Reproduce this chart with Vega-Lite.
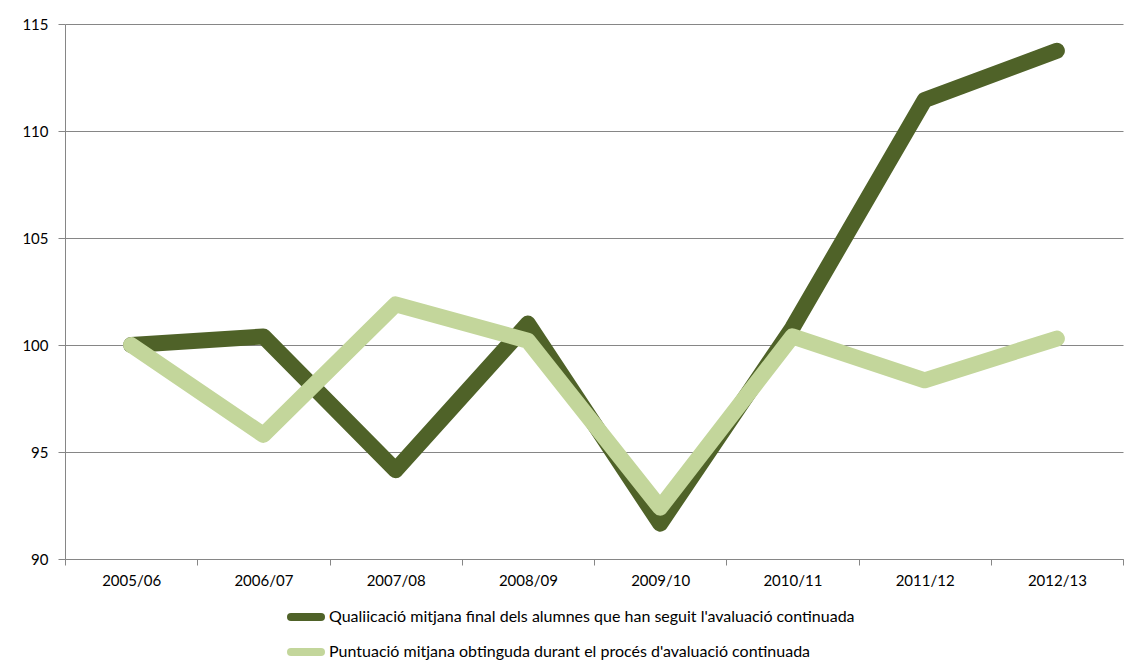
{
  "$schema": "https://vega.github.io/schema/vega-lite/v6.json",
  "width": 1058,
  "height": 535,
  "autosize": {"type": "none"},
  "padding": {"left": 65, "top": 24, "right": 12, "bottom": 110},
  "background": "white",
  "config": {
    "view": {"stroke": null},
    "font": "Lato",
    "axis": {
      "labelFont": "Lato",
      "labelFontSize": 15,
      "labelColor": "#000000",
      "domainColor": "#868686",
      "tickColor": "#868686",
      "gridColor": "#868686",
      "gridWidth": 1,
      "domainWidth": 1,
      "tickWidth": 1,
      "title": null
    }
  },
  "datasets": {
    "d": [
      {"curs": "2005/06", "serie": "Qualiicació mitjana final dels alumnes que han seguit l'avaluació continuada", "valor": 100.0},
      {"curs": "2006/07", "serie": "Qualiicació mitjana final dels alumnes que han seguit l'avaluació continuada", "valor": 100.4},
      {"curs": "2007/08", "serie": "Qualiicació mitjana final dels alumnes que han seguit l'avaluació continuada", "valor": 94.15},
      {"curs": "2008/09", "serie": "Qualiicació mitjana final dels alumnes que han seguit l'avaluació continuada", "valor": 101.0},
      {"curs": "2009/10", "serie": "Qualiicació mitjana final dels alumnes que han seguit l'avaluació continuada", "valor": 91.65},
      {"curs": "2010/11", "serie": "Qualiicació mitjana final dels alumnes que han seguit l'avaluació continuada", "valor": 100.8},
      {"curs": "2011/12", "serie": "Qualiicació mitjana final dels alumnes que han seguit l'avaluació continuada", "valor": 111.45},
      {"curs": "2012/13", "serie": "Qualiicació mitjana final dels alumnes que han seguit l'avaluació continuada", "valor": 113.75},
      {"curs": "2005/06", "serie": "Puntuació mitjana obtinguda durant el procés d'avaluació continuada", "valor": 100.0},
      {"curs": "2006/07", "serie": "Puntuació mitjana obtinguda durant el procés d'avaluació continuada", "valor": 95.8},
      {"curs": "2007/08", "serie": "Puntuació mitjana obtinguda durant el procés d'avaluació continuada", "valor": 101.9},
      {"curs": "2008/09", "serie": "Puntuació mitjana obtinguda durant el procés d'avaluació continuada", "valor": 100.2},
      {"curs": "2009/10", "serie": "Puntuació mitjana obtinguda durant el procés d'avaluació continuada", "valor": 92.4},
      {"curs": "2010/11", "serie": "Puntuació mitjana obtinguda durant el procés d'avaluació continuada", "valor": 100.4},
      {"curs": "2011/12", "serie": "Puntuació mitjana obtinguda durant el procés d'avaluació continuada", "valor": 98.35},
      {"curs": "2012/13", "serie": "Puntuació mitjana obtinguda durant el procés d'avaluació continuada", "valor": 100.3}
    ]
  },
  "data": {"name": "d"},
  "encoding": {
    "x": {
      "field": "curs",
      "type": "ordinal",
      "scale": {"type": "band", "paddingInner": 0, "paddingOuter": 0},
      "axis": {
        "labelAngle": 0,
        "tickBand": "extent",
        "tickSize": 6,
        "labelPadding": 8,
        "grid": false
      }
    },
    "y": {
      "field": "valor",
      "type": "quantitative",
      "scale": {"domain": [90, 115], "zero": false, "nice": false},
      "axis": {
        "values": [90, 95, 100, 105, 110, 115],
        "grid": true,
        "tickSize": 7,
        "labelPadding": 10
      }
    },
    "color": {
      "field": "serie",
      "type": "nominal",
      "scale": {
        "domain": [
          "Qualiicació mitjana final dels alumnes que han seguit l'avaluació continuada",
          "Puntuació mitjana obtinguda durant el procés d'avaluació continuada"
        ],
        "range": ["#4F6228", "#C3D69B"]
      },
      "legend": {
        "title": null,
        "orient": "none",
        "legendX": 222,
        "legendY": 574,
        "direction": "vertical",
        "symbolType": "stroke",
        "symbolStrokeWidth": 8,
        "symbolSize": 900,
        "symbolOffset": 0,
        "labelFont": "Lato",
        "labelFontSize": 16,
        "labelColor": "#000000",
        "labelLimit": 0,
        "labelOffset": 4,
        "rowPadding": -4,
        "symbolFillColor": "transparent",
        "encode": {"symbols": {"update": {"strokeCap": {"value": "round"}}}}
      }
    }
  },
  "layer": [
    {
      "transform": [{"filter": "datum.serie[0] == 'Q'"}],
      "mark": {"type": "line", "strokeWidth": 16, "strokeCap": "round", "strokeJoin": "round"}
    },
    {
      "transform": [{"filter": "datum.serie[0] == 'P'"}],
      "mark": {"type": "line", "strokeWidth": 16, "strokeCap": "round", "strokeJoin": "round"}
    }
  ]
}
